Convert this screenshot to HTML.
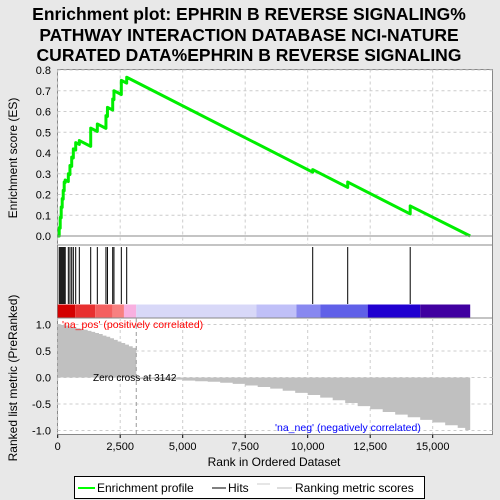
<!DOCTYPE html>
<html><head><meta charset="utf-8"><style>
body{margin:0;background:#e8e8e8;}
svg{display:block;font-family:"Liberation Sans","DejaVu Sans",sans-serif;}
</style></head><body>
<svg id="c" width="500" height="500" viewBox="0 0 500 500" xmlns="http://www.w3.org/2000/svg">
<g font-size="17.5" font-weight="bold" text-anchor="middle" fill="#000">
<text x="249" y="20">Enrichment plot: EPHRIN B REVERSE SIGNALING%</text>
<text x="249" y="41">PATHWAY INTERACTION DATABASE NCI-NATURE</text>
<text x="249" y="61">CURATED DATA%EPHRIN B REVERSE SIGNALING</text>
</g>
<rect x="57.5" y="69.5" width="435" height="365" fill="#fff" stroke="#888"/>
<line x1="57.5" y1="245" x2="492.5" y2="245" stroke="#888"/>
<line x1="57.5" y1="318" x2="492.5" y2="318" stroke="#888"/>
<g id="grid" stroke="#ccc" stroke-dasharray="3,3"></g>
<g id="marks"></g>
<g id="axes" font-size="11" fill="#000"></g>
<text x="17" y="158" font-size="12" transform="rotate(-90 17 158)" text-anchor="middle">Enrichment score (ES)</text>
<text x="17" y="378" font-size="12" transform="rotate(-90 17 378)" text-anchor="middle">Ranked list metric (PreRanked)</text>
<text x="274" y="466" font-size="12" text-anchor="middle">Rank in Ordered Dataset</text>
<text x="62" y="328" font-size="10.5" fill="#f00">'na_pos' (positively correlated)</text>
<text x="275" y="431" font-size="10.5" fill="#00f">'na_neg' (negatively correlated)</text>
<text x="93" y="381" font-size="10">Zero cross at 3142</text>
<g>
<rect x="74.5" y="476.5" width="350" height="22" fill="#fff" stroke="#000"/>
<line x1="78" y1="488" x2="95" y2="488" stroke="#0f0" stroke-width="2"/>
<text x="97" y="492" font-size="12">Enrichment profile</text>
<line x1="212" y1="488" x2="226" y2="488" stroke="#000"/>
<text x="228" y="492" font-size="12">Hits</text>
<line x1="257" y1="484" x2="270" y2="484" stroke="#ccc"/>
<line x1="277" y1="488" x2="292" y2="488" stroke="#bbb"/>
<text x="295" y="492" font-size="12">Ranking metric scores</text>
</g>
</svg>
<script>
const hitRanks=[60,100,140,180,220,260,300,425,490,560,625,720,865,1320,1585,1930,1990,2200,2250,2545,2760,10200,11600,14100];
const esAfterHit=[0.04,0.09,0.14,0.18,0.22,0.26,0.27,0.30,0.34,0.38,0.42,0.45,0.46,0.52,0.54,0.58,0.62,0.66,0.70,0.75,0.765,0.32,0.26,0.145];
const metricRanks=[0,150,300,450,600,750,900,1050,1200,1350,1500,1650,1800,1950,2100,2250,2400,2550,2700,2850,3000,3142,3143,4000,5000,5500,6000,6500,7000,7500,8000,8500,9000,9500,10000,10500,11000,11500,12000,12500,13000,13500,14000,14500,15000,15500,16000,16300,16500];
const metricVals=[1.0,0.99,0.98,0.96,0.95,0.93,0.92,0.9,0.88,0.86,0.84,0.82,0.79,0.77,0.74,0.71,0.68,0.65,0.62,0.59,0.56,0.52,-0.03,-0.04,-0.06,-0.07,-0.08,-0.1,-0.12,-0.15,-0.18,-0.21,-0.25,-0.29,-0.33,-0.38,-0.43,-0.48,-0.54,-0.6,-0.65,-0.7,-0.75,-0.8,-0.85,-0.9,-0.95,-0.99,-1.0];
const esTicks=[0,0.1,0.2,0.3,0.4,0.5,0.6,0.7,0.8];
const metricTicks=[1.0,0.5,0.0,-0.5,-1.0];
const xTicks=[0,2500,5000,7500,10000,12500,15000];
const xTickLabels=["0","2,500","5,000","7,500","10,000","12,500","15,000"];
const colorStops=[0,700,1500,2200,2650,3142,7950,9550,10500,12400,14500,16500];
const colorFill=["#d40000","#e83030","#f46060","#f88080","#f8b0e0","#d8d8f8","#c0c0f8","#8888f0","#6060e8","#2000d0","#4000a0"];
const N=16500;
const X=r=>57.7+r*0.025;
const YE=v=>236-v*207.5;
const YM=v=>377.5-v*53;
const NS="http://www.w3.org/2000/svg";
function mk(p,t,a){const e=document.createElementNS(NS,t);for(const k in a)e.setAttribute(k,a[k]);p.appendChild(e);return e;}
const grid=document.getElementById('grid'),marks=document.getElementById('marks'),axes=document.getElementById('axes');
esTicks.forEach(v=>{mk(grid,'line',{x1:57.5,x2:492.5,y1:YE(v),y2:YE(v)});const t=mk(axes,'text',{x:51,y:YE(v)+4,'text-anchor':'end'});t.textContent=v.toFixed(1);

});
metricTicks.forEach(v=>{mk(grid,'line',{x1:57.5,x2:492.5,y1:YM(v),y2:YM(v)});const t=mk(axes,'text',{x:51,y:YM(v)+4,'text-anchor':'end'});t.textContent=v.toFixed(1);

});
xTicks.forEach((v,i)=>{mk(grid,'line',{x1:X(v),x2:X(v),y1:69.5,y2:245});mk(grid,'line',{x1:X(v),x2:X(v),y1:318,y2:434.5});mk(axes,'line',{x1:X(v),x2:X(v),y1:434.5,y2:438,stroke:'#000'});
const t=mk(axes,'text',{x:X(v),y:450,'text-anchor':'middle'});t.textContent=xTickLabels[i];

});
let d='M'+X(0)+','+YM(0);
for(let i=0;i<metricRanks.length;i++){d+=' L'+X(metricRanks[i])+','+YM(metricVals[i]);if(i+1<metricRanks.length)d+=' L'+X(metricRanks[i+1])+','+YM(metricVals[i]);}
d+=' L'+X(N)+','+YM(0)+'Z';
const ar=mk(marks,'path',{d:d,fill:'#c0c0c0'});


const zl=mk(marks,'line',{x1:X(3142),x2:X(3142),y1:318,y2:434.5,stroke:'#999','stroke-dasharray':'4,3'});


for(let i=0;i<colorFill.length;i++){const r=mk(marks,'rect',{x:X(colorStops[i]),y:304.5,width:X(colorStops[i+1])-X(colorStops[i]),height:13,fill:colorFill[i]});

}
hitRanks.forEach(r=>{const l=mk(marks,'line',{x1:X(r),x2:X(r),y1:247,y2:304,stroke:'#000','stroke-width':1});

});
const decl=6.15e-5;
let pts=[[0,0]],prev=0,pr=0;
hitRanks.forEach((r,i)=>{const before=Math.max(0,prev-decl*(r-pr));pts.push([r,before]);pts.push([r,esAfterHit[i]]);prev=esAfterHit[i];pr=r;});
pts.push([N,0]);
const es=mk(marks,'polyline',{points:pts.map(p=>X(p[0])+','+YE(p[1])).join(' '),fill:'none',stroke:'#00ee00','stroke-width':3,'stroke-linejoin':'round'});


mk(marks,'line',{x1:57.5,x2:492.5,y1:YE(0),y2:YE(0),stroke:'#888'});
</script>
</body></html>
